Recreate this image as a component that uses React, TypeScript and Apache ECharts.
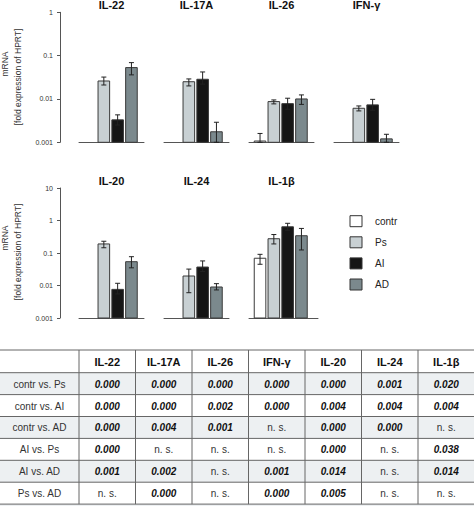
import React, { useEffect, useRef } from "react";
import * as echarts from "echarts";

// ---------- data ----------
const groups = ["contr", "Ps", "AI", "AD"];
const groupColors = ["#ffffff", "#c8d0d3", "#151515", "#7b898d"];

const panelNames = ["IL-22", "IL-17A", "IL-26", "IFN-γ", "IL-20", "IL-24", "IL-1β"];

// mean, lower and upper error bound per group [contr, Ps, AI, AD]; null = not detected
const il22Mean = [null, 0.026, 0.0033, 0.053];
const il22Low = [null, 0.021, 0.0025, 0.036];
const il22High = [null, 0.032, 0.0043, 0.069];

const il17aMean = [null, 0.025, 0.0285, 0.00175];
const il17aLow = [null, 0.02, 0.022, 0.001];
const il17aHigh = [null, 0.029, 0.042, 0.0029];

const il26Mean = [0.00107, 0.0087, 0.0078, 0.01];
const il26Low = [0.001, 0.0077, 0.0058, 0.0075];
const il26High = [0.0016, 0.0095, 0.0104, 0.0124];

const ifngMean = [null, 0.0061, 0.0073, 0.0012];
const ifngLow = [null, 0.0053, 0.0055, 0.001];
const ifngHigh = [null, 0.0069, 0.0098, 0.00153];

const il20Mean = [null, 0.19, 0.0076, 0.054];
const il20Low = [null, 0.145, 0.0055, 0.035];
const il20High = [null, 0.23, 0.0117, 0.077];

const il24Mean = [null, 0.0196, 0.037, 0.009];
const il24Low = [null, 0.006, 0.027, 0.0073];
const il24High = [null, 0.032, 0.057, 0.0114];

const il1bMean = [0.069, 0.275, 0.64, 0.34];
const il1bLow = [0.045, 0.19, 0.5, 0.124];
const il1bHigh = [0.091, 0.37, 0.82, 0.57];

const panelMeans = [il22Mean, il17aMean, il26Mean, ifngMean, il20Mean, il24Mean, il1bMean];
const panelLows = [il22Low, il17aLow, il26Low, ifngLow, il20Low, il24Low, il1bLow];
const panelHighs = [il22High, il17aHigh, il26High, ifngHigh, il20High, il24High, il1bHigh];

const yMin = 0.001;
const row1Max = 1;
const row2Max = 10;

const yTitleLine1 = "mRNA";
const yTitleLine2 = "[fold expression of HPRT]";

// table
const tableColumns = ["IL-22", "IL-17A", "IL-26", "IFN-γ", "IL-20", "IL-24", "IL-1β"];
const tableRows = ["contr vs. Ps", "contr vs. AI", "contr vs. AD", "AI vs. Ps", "AI vs. AD", "Ps vs. AD"];
const contrVsPs = ["0.000", "0.000", "0.000", "0.000", "0.000", "0.001", "0.020"];
const contrVsAI = ["0.000", "0.000", "0.002", "0.000", "0.004", "0.004", "0.004"];
const contrVsAD = ["0.000", "0.004", "0.001", "n. s.", "0.000", "0.000", "n. s."];
const aiVsPs = ["0.000", "n. s.", "n. s.", "n. s.", "0.000", "n. s.", "0.038"];
const aiVsAD = ["0.001", "0.002", "n. s.", "0.001", "0.014", "n. s.", "0.014"];
const psVsAD = ["n. s.", "0.000", "n. s.", "0.000", "0.005", "n. s.", "n. s."];
const tableValues = [contrVsPs, contrVsAI, contrVsAD, aiVsPs, aiVsAD, psVsAD];

// ---------- layout ----------
const FONT = "Liberation Sans, Arial, Helvetica, sans-serif";
const unitPx = 13.8;
const panelLayout = [
  { left: 79, top: 12.3, width: 65, max: row1Max, first: true },
  { left: 164, top: 12.3, width: 65, max: row1Max, first: false },
  { left: 249, top: 12.3, width: 65, max: row1Max, first: false },
  { left: 334, top: 12.3, width: 65, max: row1Max, first: false },
  { left: 79, top: 188, width: 65, max: row2Max, first: true },
  { left: 164, top: 188, width: 65, max: row2Max, first: false },
  { left: 249, top: 188, width: 69, max: row2Max, first: false },
];
const titleY = [4.5, 4.5, 4.5, 4.5, 180.5, 180.5, 180.5];
const panelHeight = 130;

const tableTop = 350;
const headerH = 22.7;
const rowH = 21.9;
const firstColW = 79;
const colW = 56.5;

export default function App() {
  const ref = useRef<HTMLDivElement>(null);
  useEffect(() => {
    document.body.style.margin = "0";
    const chart = echarts.init(ref.current!, null, { renderer: "svg" });

    const grids: any[] = [];
    const xAxes: any[] = [];
    const yAxes: any[] = [];
    const series: any[] = [];

    panelLayout.forEach((p, i) => {
      grids.push({ left: p.left, top: p.top, width: p.width, height: panelHeight, containLabel: false });
      xAxes.push({
        type: "value",
        gridIndex: i,
        min: 0.2,
        max: 0.2 + p.width / unitPx,
        axisLine: { show: true, onZero: false, lineStyle: { color: "#555", width: 1 } },
        axisTick: { show: false },
        axisLabel: { show: false },
        splitLine: { show: false },
      });
      yAxes.push({
        type: "log",
        logBase: 10,
        gridIndex: i,
        min: yMin,
        max: p.max,
        show: p.first,
        offset: p.first ? 19 : 0,
        axisLine: { show: true, lineStyle: { color: "#555", width: 1 } },
        axisTick: { show: true, length: 3, lineStyle: { color: "#555" } },
        axisLabel: {
          show: true,
          fontSize: 7,
          color: "#333",
          fontFamily: FONT,
          margin: 7,
          formatter: (v: number) => String(Number(v.toPrecision(6))),
        },
        splitLine: { show: false },
      });
      const means = panelMeans[i];
      const data: any[] = [];
      means.forEach((m, g) => {
        if (m === null) return;
        data.push([g + 1, m, panelLows[i][g], panelHighs[i][g], g]);
      });
      series.push({
        type: "custom",
        name: panelNames[i],
        xAxisIndex: i,
        yAxisIndex: i,
        data,
        renderItem: (params: any, api: any) => {
          const x = api.value(0) as number;
          const v = api.value(1) as number;
          const lo = api.value(2) as number;
          const hi = api.value(3) as number;
          const ci = api.value(4) as number;
          const pTop = api.coord([x, v]);
          const pBase = api.coord([x, yMin]);
          const pL = api.coord([x - 0.42, v]);
          const pR = api.coord([x + 0.42, v]);
          const pHi = api.coord([x, hi]);
          const pLo = api.coord([x, lo]);
          const cap = 2.5;
          const es = { stroke: "#222", lineWidth: 1 };
          return {
            type: "group",
            children: [
              {
                type: "rect",
                shape: { x: pL[0], y: pTop[1], width: pR[0] - pL[0], height: pBase[1] - pTop[1] },
                style: { fill: groupColors[ci], stroke: "#3a3a3a", lineWidth: 1 },
              },
              { type: "line", shape: { x1: pTop[0], y1: pHi[1], x2: pTop[0], y2: pLo[1] }, style: es },
              { type: "line", shape: { x1: pTop[0] - cap, y1: pHi[1], x2: pTop[0] + cap, y2: pHi[1] }, style: es },
              { type: "line", shape: { x1: pTop[0] - cap, y1: pLo[1], x2: pTop[0] + cap, y2: pLo[1] }, style: es },
            ],
          };
        },
      });
    });

    const graphics: any[] = [];
    // panel titles
    panelLayout.forEach((p, i) => {
      graphics.push({
        type: "text",
        style: {
          text: panelNames[i],
          x: p.left + 32.5,
          y: titleY[i],
          align: "center",
          verticalAlign: "middle",
          fontSize: 11,
          fontWeight: "bold",
          fontFamily: FONT,
          fill: "#111",
        },
      });
    });
    // y axis titles
    [
      [64, 77],
      [238, 252],
    ].forEach(([y1, y2]) => {
      graphics.push({
        type: "text",
        x: 5,
        y: y1,
        rotation: Math.PI / 2,
        style: { text: yTitleLine1, align: "center", verticalAlign: "middle", fontSize: 8.5, fontFamily: FONT, fill: "#333" },
      });
      graphics.push({
        type: "text",
        x: 17.5,
        y: y2,
        rotation: Math.PI / 2,
        style: { text: yTitleLine2, align: "center", verticalAlign: "middle", fontSize: 8.5, fontFamily: FONT, fill: "#333" },
      });
    });
    // legend
    groups.forEach((g, i) => {
      const y = 215.7 + i * 21.1;
      graphics.push({
        type: "rect",
        shape: { x: 350, y, width: 12, height: 11 },
        style: { fill: groupColors[i], stroke: "#333", lineWidth: 1 },
      });
      graphics.push({
        type: "text",
        style: { text: g, x: 375, y: y + 5.5, align: "left", verticalAlign: "middle", fontSize: 10, fontFamily: FONT, fill: "#222" },
      });
    });

    // table
    const tableBottom = tableTop + headerH + rowH * tableRows.length;
    const tableRight = firstColW + colW * tableColumns.length;
    tableRows.forEach((r, ri) => {
      const y = tableTop + headerH + ri * rowH;
      if (ri % 2 === 0) {
        graphics.push({ type: "rect", shape: { x: 0, y, width: 474, height: rowH }, style: { fill: "#edf0f2" } });
      }
    });
    graphics.push({ type: "rect", shape: { x: 0, y: tableBottom, width: 474, height: 506 - tableBottom }, style: { fill: "#edf0f2" } });
    // horizontal lines
    for (let k = 0; k <= tableRows.length + 1; k++) {
      const y = k === 0 ? tableTop : tableTop + headerH + (k - 1) * rowH;
      graphics.push({ type: "line", shape: { x1: 0, y1: y, x2: 474, y2: y }, style: { stroke: "#666", lineWidth: 1 } });
    }
    // vertical lines
    for (let c = 0; c <= tableColumns.length; c++) {
      const x = firstColW + c * colW;
      graphics.push({ type: "line", shape: { x1: x, y1: tableTop, x2: x, y2: tableBottom }, style: { stroke: "#666", lineWidth: 1 } });
    }
    // header
    tableColumns.forEach((c, ci) => {
      graphics.push({
        type: "text",
        style: {
          text: c,
          x: firstColW + ci * colW + colW / 2,
          y: tableTop + headerH / 2 + 0.5,
          align: "center",
          verticalAlign: "middle",
          fontSize: 11,
          fontWeight: "bold",
          fontFamily: FONT,
          fill: "#111",
        },
      });
    });
    // rows
    tableRows.forEach((r, ri) => {
      const cy = tableTop + headerH + ri * rowH + rowH / 2 + 0.5;
      graphics.push({
        type: "text",
        style: { text: r, x: firstColW / 2, y: cy, align: "center", verticalAlign: "middle", fontSize: 10, fontFamily: FONT, fill: "#333" },
      });
      tableValues[ri].forEach((v, ci) => {
        const ns = v === "n. s.";
        graphics.push({
          type: "text",
          style: {
            text: v,
            x: firstColW + ci * colW + colW / 2,
            y: cy,
            align: "center",
            verticalAlign: "middle",
            fontSize: 10,
            fontWeight: ns ? "normal" : "bold",
            fontStyle: ns ? "normal" : "italic",
            fontFamily: FONT,
            fill: ns ? "#333" : "#111",
          },
        });
      });
    });
    void tableRight;

    chart.setOption({
      animation: false,
      backgroundColor: "#ffffff",
      grid: grids,
      xAxis: xAxes,
      yAxis: yAxes,
      series,
      graphic: graphics,
    });
    return () => chart.dispose();
  }, []);
  return <div ref={ref} style={{ width: 474, height: 506 }} />;
}
